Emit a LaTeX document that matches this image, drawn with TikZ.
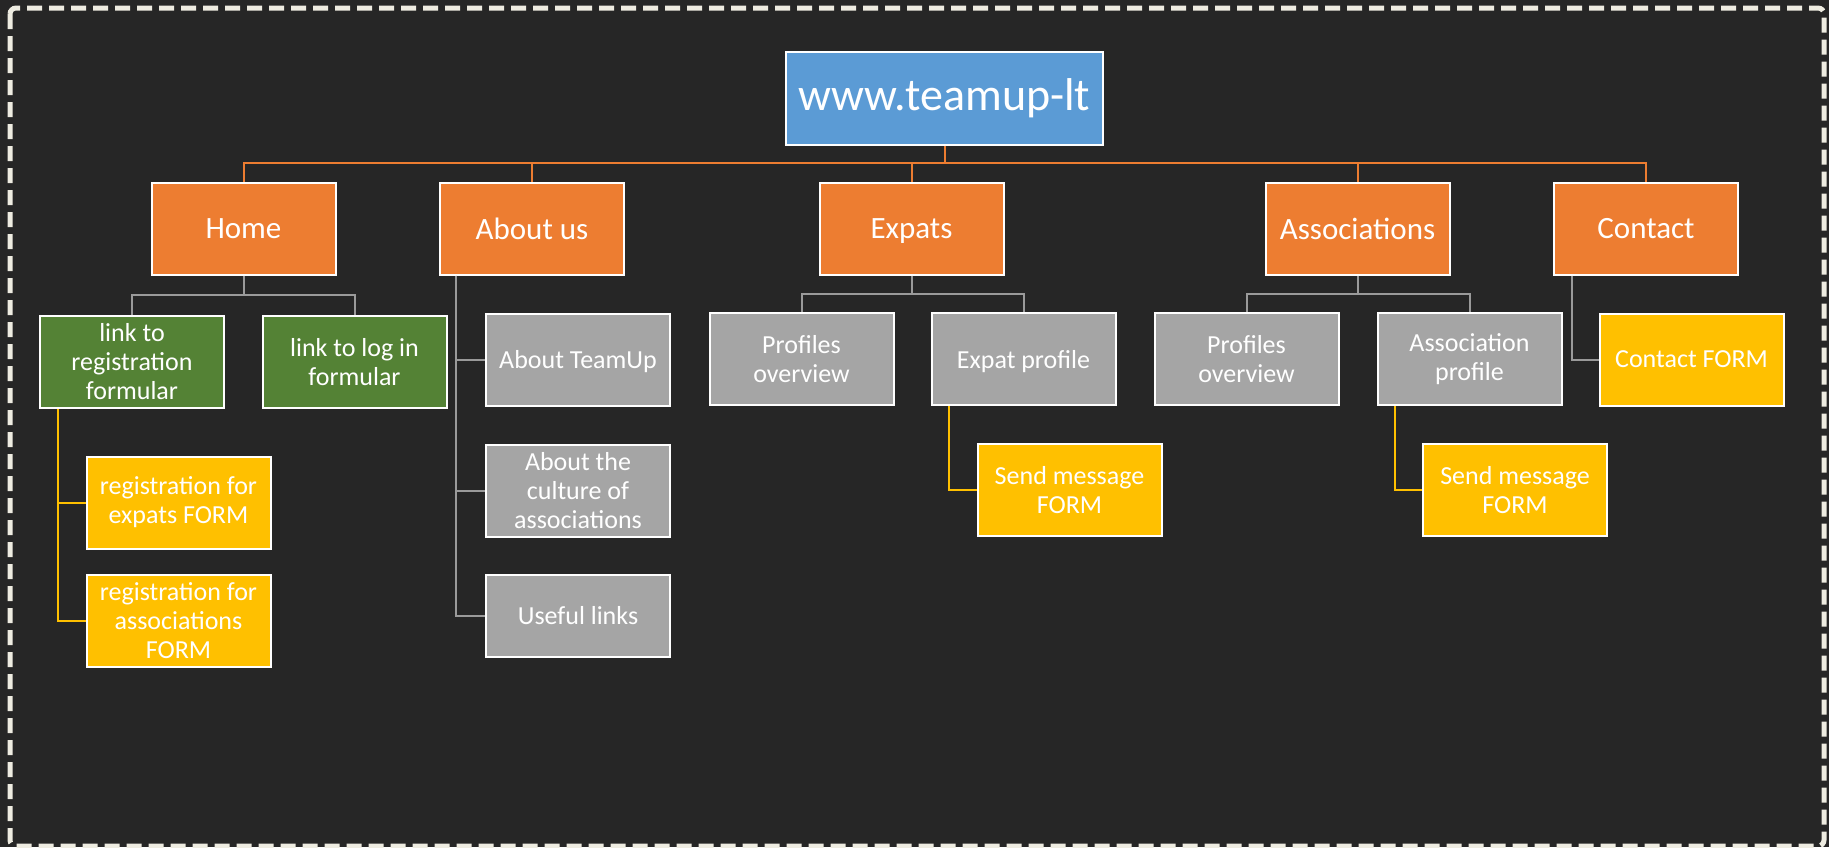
\documentclass[tikz,border=0pt]{standalone}
\usepackage{fontspec}
\setmainfont{Carlito}
\definecolor{bgc}{HTML}{262626}
\definecolor{bluec}{HTML}{5B9BD5}
\definecolor{orangec}{HTML}{ED7D31}
\definecolor{greenc}{HTML}{548235}
\definecolor{greyc}{HTML}{A5A5A5}
\definecolor{yellowc}{HTML}{FFC000}
\definecolor{creamc}{HTML}{EEECE1}
\definecolor{glinec}{HTML}{9A9A9A}
\tikzset{
  box/.style={rectangle, draw=white, line width=1pt, minimum width=92pt, minimum height=46pt, inner sep=0pt, align=center, text=white, font=\fontsize{13}{14.5}\selectfont},
  topbox/.style={box, fill=bluec, minimum width=158.5pt, minimum height=46.5pt, font=\fontsize{23}{25}\selectfont},
  secbox/.style={box, fill=orangec, font=\fontsize{15.5}{17}\selectfont},
  greenbox/.style={box, fill=greenc},
  greybox/.style={box, fill=greyc},
  yellowbox/.style={box, fill=yellowc},
  nodepth/.style={text depth=0pt},
  oline/.style={draw=orangec, line width=1pt},
  gline/.style={draw=glinec, line width=1pt},
  yline/.style={draw=yellowc, line width=1pt},
}
\begin{document}
\begin{tikzpicture}[x=0.5pt, y=-0.5pt]
\useasboundingbox (0,0) rectangle (1829,847);
\fill[bgc] (0,0) rectangle (1829,847);
\draw[creamc, line width=2.5pt, dash pattern=on 7.5pt off 3.5pt, rounded corners=3pt] (10,8) rectangle (1824,846);

% top
\node[topbox] (top) at (944.5,98) {www.teamup-lt};

% second level
\node[secbox] (home) at (243.5,228.5) {Home};
\node[secbox] (about) at (532,228.5) {About us};
\node[secbox, nodepth] (expats) at (911.5,228.5) {Expats};
\node[secbox] (assoc) at (1357.5,228.5) {Associations};
\node[secbox] (contact) at (1646,228.5) {Contact};

\coordinate (obus) at (0,163);
\draw[oline] (top.south) -- (top.south |- obus);
\draw[oline] (home.north) -- (home.north |- obus) -- (contact.north |- obus) -- (contact.north);
\draw[oline] (about.north) -- (about.north |- obus);
\draw[oline] (expats.north) -- (expats.north |- obus);
\draw[oline] (assoc.north) -- (assoc.north |- obus);

% Home children
\node[greenbox] (linkreg) at (132,362) {link to\\registration\\formular};
\node[greenbox] (linklog) at (354.5,362) {link to log in\\formular};
\coordinate (hbus) at (0,295);
\draw[gline] (home.south) -- (home.south |- hbus);
\draw[gline] (linkreg.north) |- (linklog.north |- hbus) -- (linklog.north);

\node[yellowbox] (regexp) at (178.5,502.5) {registration for\\expats FORM};
\node[yellowbox] (regass) at (178.5,620.5) {registration for\\associations\\FORM};
\draw[yline] ([xshift=9.25pt]linkreg.south west) |- (regexp.west);
\draw[yline] ([xshift=9.25pt]linkreg.south west) |- (regass.west);

% About us children
\node[greybox, nodepth] (teamup) at (578,359.5) {About TeamUp};
\node[greybox] (culture) at (578,490.5) {About the\\culture of\\associations};
\node[greybox, minimum height=41pt] (links) at (578,615.5) {Useful links};
\draw[gline] ([xshift=8.5pt]about.south west) |- (teamup.west);
\draw[gline] ([xshift=8.5pt]about.south west) |- (culture.west);
\draw[gline] ([xshift=8.5pt]about.south west) |- (links.west);

% Expats children
\coordinate (ebus) at (0,294);
\node[greybox] (eprofiles) at (801.5,359) {Profiles\\overview};
\node[greybox, nodepth] (eprofile) at (1023.5,359) {Expat profile};
\draw[gline] (expats.south) -- (expats.south |- ebus);
\draw[gline] (eprofiles.north) |- (eprofile.north |- ebus) -- (eprofile.north);
\node[yellowbox] (emsg) at (1069.5,490) {Send message\\FORM};
\draw[yline] ([xshift=9pt]eprofile.south west) |- (emsg.west);

% Associations children
\node[greybox] (aprofiles) at (1246.5,359) {Profiles\\overview};
\node[greybox] (aprofile) at (1469.5,359) {Association\\profile};
\draw[gline] (assoc.south) -- (assoc.south |- ebus);
\draw[gline] (aprofiles.north) |- (aprofile.north |- ebus) -- (aprofile.north);
\node[yellowbox] (amsg) at (1515,490) {Send message\\FORM};
\draw[yline] ([xshift=9pt]aprofile.south west) |- (amsg.west);

% Contact child
\node[yellowbox] (cform) at (1691.5,359.5) {Contact FORM};
\draw[gline] ([xshift=9.5pt]contact.south west) |- (cform.west);
\end{tikzpicture}
\end{document}
